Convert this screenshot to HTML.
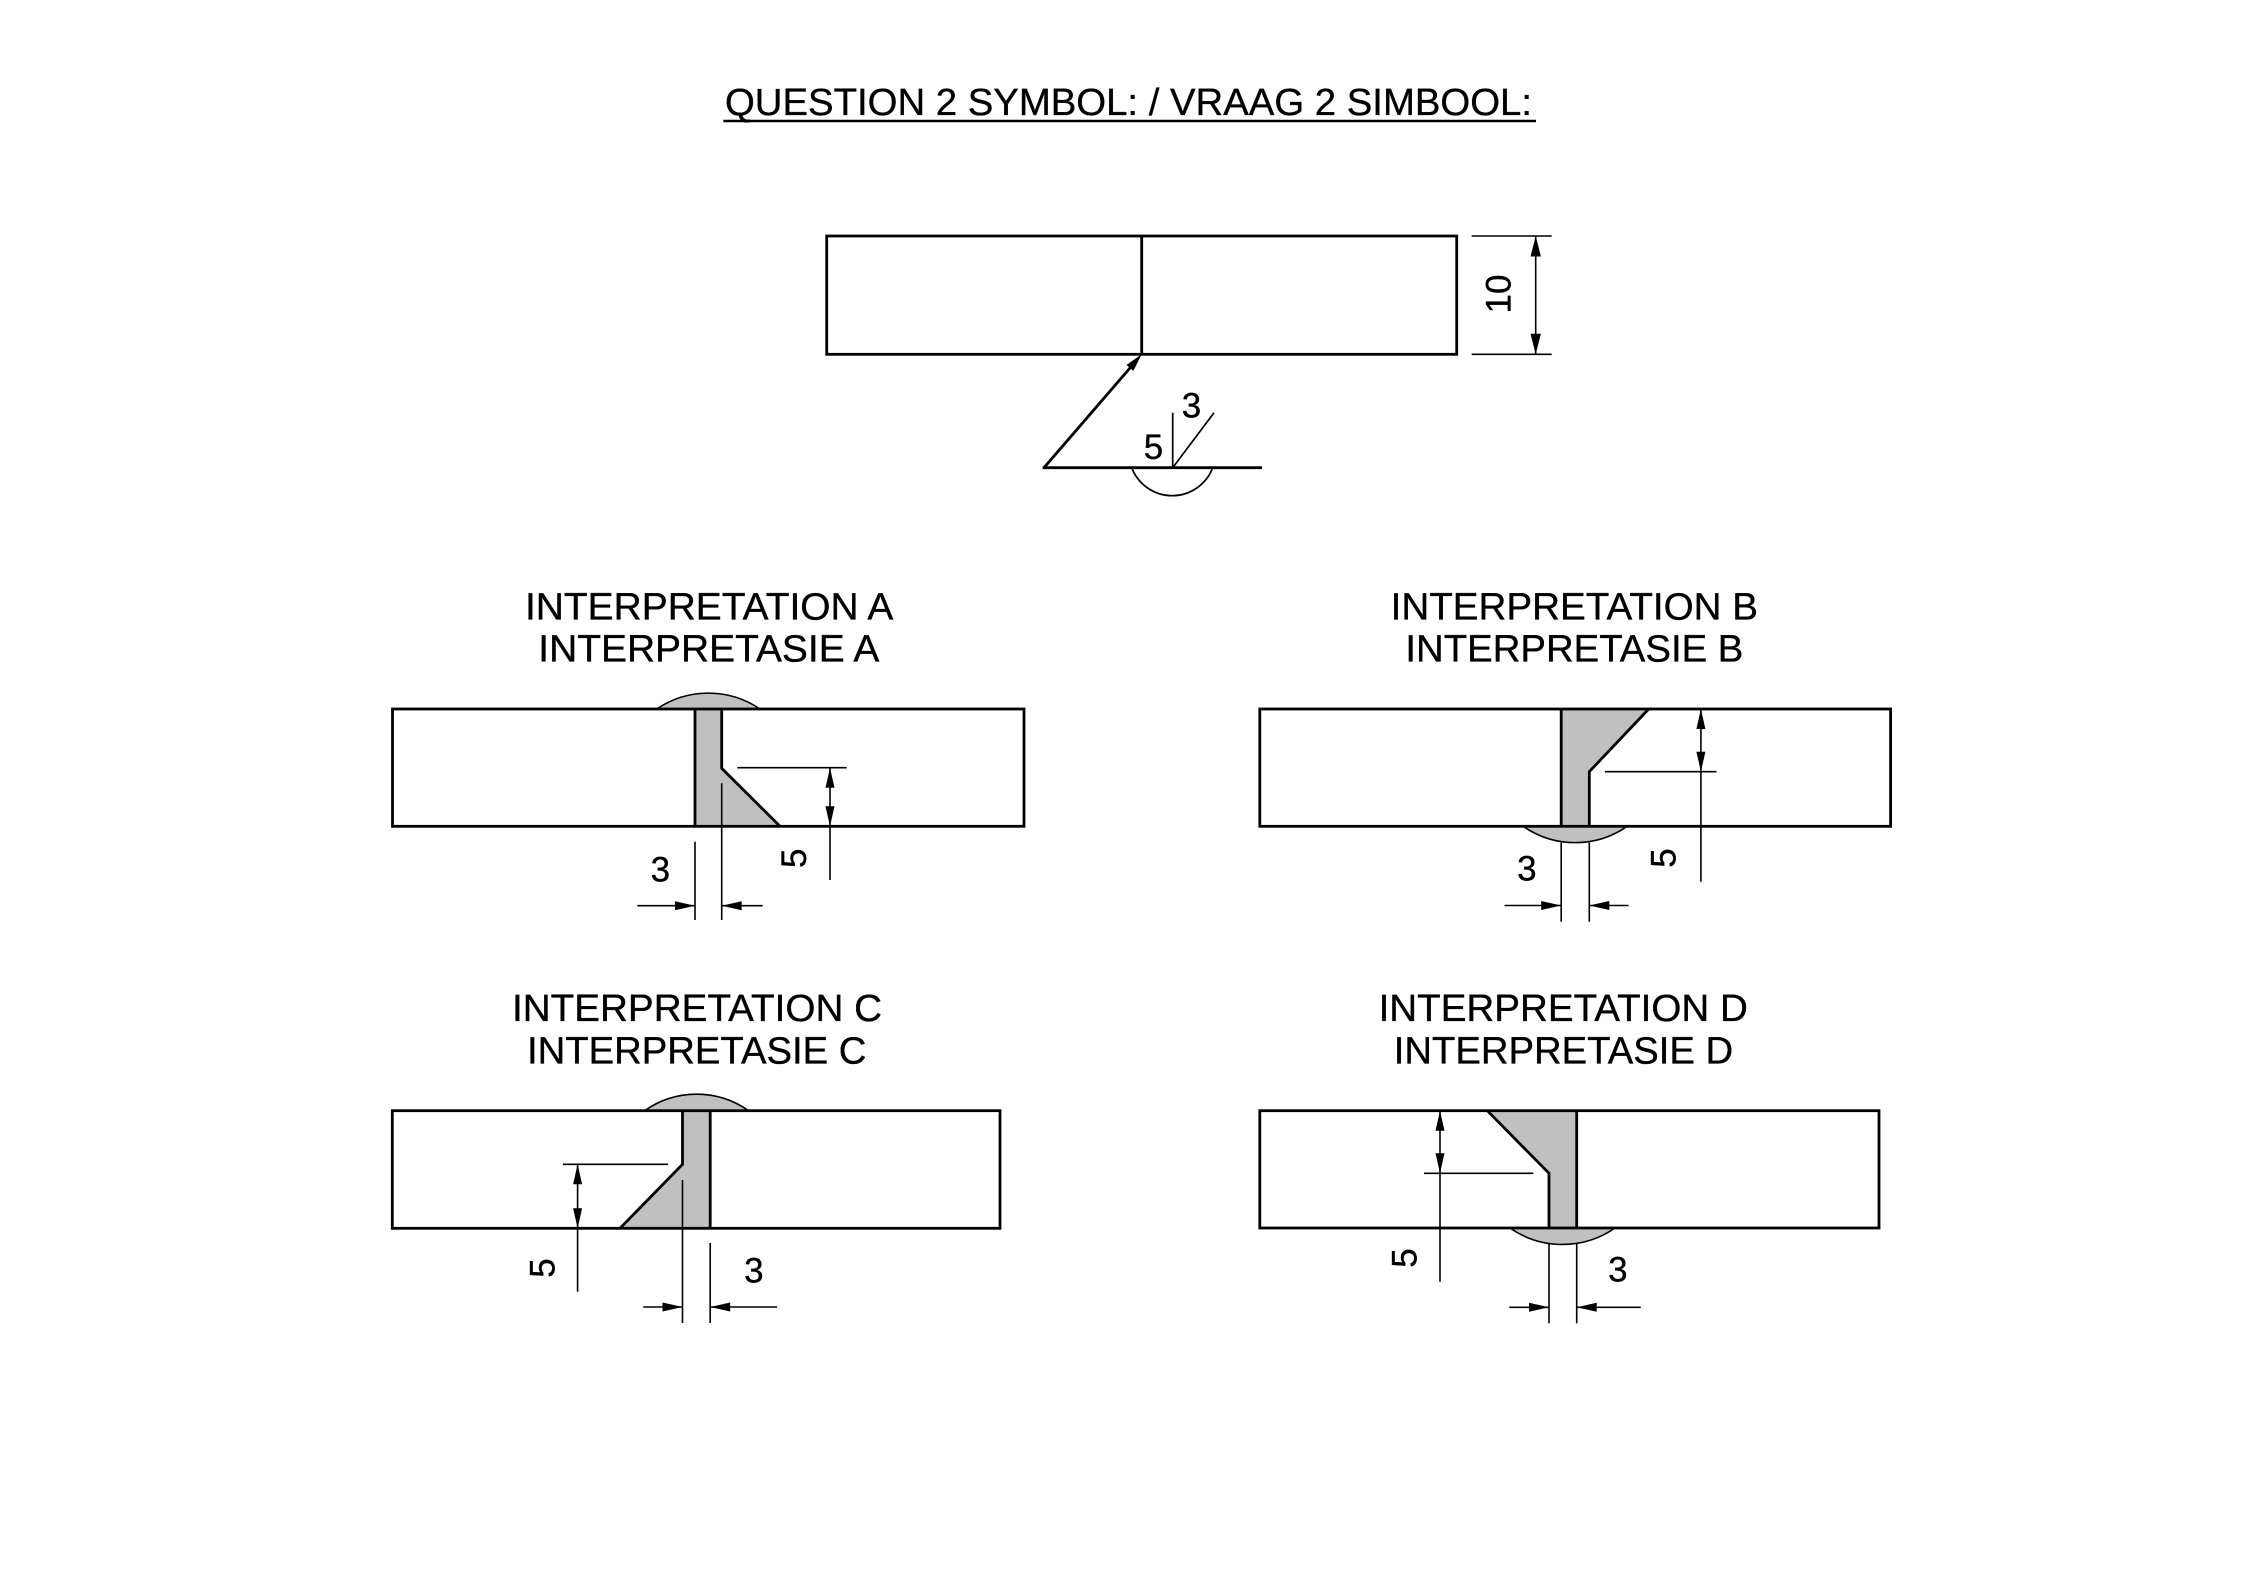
<!DOCTYPE html>
<html>
<head>
<meta charset="utf-8">
<style>
  html, body { margin: 0; padding: 0; background: #ffffff; }
  svg { display: block; }
  text { font-family: "Liberation Sans", Arial, sans-serif; fill: #000; stroke: #000; stroke-width: 0.35; }
</style>
</head>
<body>
<svg width="2262" height="1575" viewBox="0 0 2262 1575" xmlns="http://www.w3.org/2000/svg">
  <rect x="0" y="0" width="2262" height="1575" fill="#ffffff"/>

  <!-- ===== Title ===== -->
  <text x="725" y="115" font-size="38" textLength="807" lengthAdjust="spacingAndGlyphs">QUESTION 2 SYMBOL: / VRAAG 2 SIMBOOL:</text>
  <line x1="723.3" y1="121" x2="1536" y2="121" stroke="#000" stroke-width="2.5"/>

  <!-- ===== Top symbol drawing ===== -->
  <rect x="826.7" y="236" width="630" height="118.3" fill="none" stroke="#000" stroke-width="2.8"/>
  <line x1="1141.7" y1="236" x2="1141.7" y2="354.3" stroke="#000" stroke-width="2.8"/>
  <!-- dimension 10 -->
  <line x1="1471.7" y1="236" x2="1551.7" y2="236" stroke="#000" stroke-width="1.6"/>
  <line x1="1471.7" y1="354.3" x2="1551.7" y2="354.3" stroke="#000" stroke-width="1.6"/>
  <line x1="1535.7" y1="236" x2="1535.7" y2="354.3" stroke="#000" stroke-width="1.6"/>
  <polygon points="1535.7,236 1530.5,256.5 1540.9,256.5" fill="#000"/>
  <polygon points="1535.7,354.3 1530.5,333.8 1540.9,333.8" fill="#000"/>
  <text x="1498" y="306.5" font-size="35" text-anchor="middle" transform="rotate(-90 1498 294)">10</text>
  <!-- leader + arrow -->
  <line x1="1044" y1="467.7" x2="1133" y2="364.5" stroke="#000" stroke-width="2.8"/>
  <polygon points="1141.7,354.3 1133.36,370.88 1126.54,365.0" fill="#000"/>
  <!-- reference line -->
  <line x1="1042.6" y1="467.7" x2="1262" y2="467.7" stroke="#000" stroke-width="2.8"/>
  <!-- weld symbol -->
  <line x1="1172.7" y1="412.7" x2="1172.7" y2="467.7" stroke="#000" stroke-width="1.7"/>
  <line x1="1172.7" y1="467.7" x2="1214" y2="412.7" stroke="#000" stroke-width="1.7"/>
  <path d="M1131.7 467.7 A43.3 43.3 0 0 0 1212.7 467.7" fill="none" stroke="#000" stroke-width="1.7"/>
  <text x="1191.5" y="417.5" font-size="35" text-anchor="middle">3</text>
  <text x="1153.5" y="459" font-size="35" text-anchor="middle">5</text>

  <!-- ===== Interpretation A ===== -->
  <text x="525" y="619.3" font-size="38" textLength="368.3" lengthAdjust="spacingAndGlyphs">INTERPRETATION A</text>
  <text x="538.3" y="661.7" font-size="38" textLength="341" lengthAdjust="spacingAndGlyphs">INTERPRETASIE A</text>
  <rect x="392.5" y="709" width="631.5" height="117.3" fill="#fff" stroke="none"/>
  <path d="M656.7 709 A92 92 0 0 1 760 709 Z" fill="#c0c0c0"/>
  <path d="M656.7 709 A92 92 0 0 1 760 709" fill="none" stroke="#000" stroke-width="1.6"/>
  <polygon points="695,709 721.7,709 721.7,768.3 780,826.3 695,826.3" fill="#c0c0c0"/>
  <line x1="695" y1="709" x2="695" y2="826.3" stroke="#000" stroke-width="2.8"/>
  <polyline points="721.7,709 721.7,768.3 780,826.3" fill="none" stroke="#000" stroke-width="2.8"/>
  <rect x="392.5" y="709" width="631.5" height="117.3" fill="none" stroke="#000" stroke-width="2.8"/>
  <line x1="721.7" y1="783.3" x2="721.7" y2="920" stroke="#000" stroke-width="1.6"/>
  <line x1="695" y1="841.7" x2="695" y2="920" stroke="#000" stroke-width="1.6"/>
  <line x1="637.3" y1="905.7" x2="695" y2="905.7" stroke="#000" stroke-width="1.6"/>
  <polygon points="695,905.7 675,901.2 675,910.2" fill="#000"/>
  <line x1="721.7" y1="905.7" x2="762.7" y2="905.7" stroke="#000" stroke-width="1.6"/>
  <polygon points="721.7,905.7 741.7,901.2 741.7,910.2" fill="#000"/>
  <text x="660.3" y="881.7" font-size="35" text-anchor="middle">3</text>
  <line x1="737.3" y1="767.7" x2="846.7" y2="767.7" stroke="#000" stroke-width="1.6"/>
  <line x1="830" y1="767.7" x2="830" y2="880" stroke="#000" stroke-width="1.6"/>
  <polygon points="830,767.7 825.5,787.7 834.5,787.7" fill="#000"/>
  <polygon points="830,826.3 825.5,806.3 834.5,806.3" fill="#000"/>
  <text x="793.3" y="870.8" font-size="35" text-anchor="middle" transform="rotate(-90 793.3 858.3)">5</text>

  <!-- ===== Interpretation B ===== -->
  <text x="1390.6" y="619.3" font-size="38" textLength="367.4" lengthAdjust="spacingAndGlyphs">INTERPRETATION B</text>
  <text x="1405.4" y="661.7" font-size="38" textLength="338" lengthAdjust="spacingAndGlyphs">INTERPRETASIE B</text>
  <rect x="1259.8" y="709" width="630.8" height="117.3" fill="#fff" stroke="none"/>
  <path d="M1523.2 826.3 A91 91 0 0 0 1627.2 826.3 Z" fill="#c0c0c0"/>
  <path d="M1523.2 826.3 A91 91 0 0 0 1627.2 826.3" fill="none" stroke="#000" stroke-width="1.6"/>
  <polygon points="1561.2,709 1648.7,709 1589.3,771.7 1589.3,826.3 1561.2,826.3" fill="#c0c0c0"/>
  <line x1="1561.2" y1="709" x2="1561.2" y2="826.3" stroke="#000" stroke-width="2.8"/>
  <polyline points="1648.7,709 1589.3,771.7 1589.3,826.3" fill="none" stroke="#000" stroke-width="2.8"/>
  <rect x="1259.8" y="709" width="630.8" height="117.3" fill="none" stroke="#000" stroke-width="2.8"/>
  <line x1="1604.9" y1="771.7" x2="1716.5" y2="771.7" stroke="#000" stroke-width="1.6"/>
  <line x1="1700.9" y1="709" x2="1700.9" y2="881.7" stroke="#000" stroke-width="1.6"/>
  <polygon points="1700.9,709 1696.4,729 1705.4,729" fill="#000"/>
  <polygon points="1700.9,771.7 1696.4,751.7 1705.4,751.7" fill="#000"/>
  <text x="1663" y="870.5" font-size="35" text-anchor="middle" transform="rotate(-90 1663 858)">5</text>
  <line x1="1561.2" y1="842.7" x2="1561.2" y2="921.7" stroke="#000" stroke-width="1.6"/>
  <line x1="1589.3" y1="842.7" x2="1589.3" y2="921.7" stroke="#000" stroke-width="1.6"/>
  <line x1="1504.5" y1="905.5" x2="1561.2" y2="905.5" stroke="#000" stroke-width="1.6"/>
  <polygon points="1561.2,905.5 1541.2,901 1541.2,910" fill="#000"/>
  <line x1="1589.3" y1="905.5" x2="1628.6" y2="905.5" stroke="#000" stroke-width="1.6"/>
  <polygon points="1589.3,905.5 1609.3,901 1609.3,910" fill="#000"/>
  <text x="1526.8" y="880.5" font-size="35" text-anchor="middle">3</text>

  <!-- ===== Interpretation C ===== -->
  <text x="512" y="1021" font-size="38" textLength="370" lengthAdjust="spacingAndGlyphs">INTERPRETATION C</text>
  <text x="527" y="1063.4" font-size="38" textLength="339.4" lengthAdjust="spacingAndGlyphs">INTERPRETASIE C</text>
  <rect x="392.3" y="1110.7" width="607.7" height="117.6" fill="#fff" stroke="none"/>
  <path d="M644.6 1110.7 A90 90 0 0 1 748.6 1110.7 Z" fill="#c0c0c0"/>
  <path d="M644.6 1110.7 A90 90 0 0 1 748.6 1110.7" fill="none" stroke="#000" stroke-width="1.6"/>
  <polygon points="682.5,1110.7 710.2,1110.7 710.2,1228.3 620,1228.3 682.5,1164.3" fill="#c0c0c0"/>
  <line x1="710.2" y1="1110.7" x2="710.2" y2="1228.3" stroke="#000" stroke-width="2.8"/>
  <polyline points="682.5,1110.7 682.5,1164.3 620,1228.3" fill="none" stroke="#000" stroke-width="2.8"/>
  <rect x="392.3" y="1110.7" width="607.7" height="117.6" fill="none" stroke="#000" stroke-width="2.8"/>
  <line x1="682.5" y1="1180" x2="682.5" y2="1323" stroke="#000" stroke-width="1.6"/>
  <line x1="710.2" y1="1243" x2="710.2" y2="1323" stroke="#000" stroke-width="1.6"/>
  <line x1="643.2" y1="1307" x2="682.5" y2="1307" stroke="#000" stroke-width="1.6"/>
  <polygon points="682.5,1307 662.5,1302.5 662.5,1311.5" fill="#000"/>
  <line x1="710.2" y1="1307" x2="777.1" y2="1307" stroke="#000" stroke-width="1.6"/>
  <polygon points="710.2,1307 730.2,1302.5 730.2,1311.5" fill="#000"/>
  <text x="753.9" y="1282.5" font-size="35" text-anchor="middle">3</text>
  <line x1="562.9" y1="1164.3" x2="668.2" y2="1164.3" stroke="#000" stroke-width="1.6"/>
  <line x1="577.6" y1="1164.3" x2="577.6" y2="1291.7" stroke="#000" stroke-width="1.6"/>
  <polygon points="577.6,1164.3 573.1,1184.3 582.1,1184.3" fill="#000"/>
  <polygon points="577.6,1228.3 573.1,1208.3 582.1,1208.3" fill="#000"/>
  <text x="541.9" y="1280.5" font-size="35" text-anchor="middle" transform="rotate(-90 541.9 1268)">5</text>

  <!-- ===== Interpretation D ===== -->
  <text x="1378.6" y="1021" font-size="38" textLength="369.2" lengthAdjust="spacingAndGlyphs">INTERPRETATION D</text>
  <text x="1393.8" y="1063.4" font-size="38" textLength="339.3" lengthAdjust="spacingAndGlyphs">INTERPRETASIE D</text>
  <rect x="1259.8" y="1110.7" width="619.2" height="117.3" fill="#fff" stroke="none"/>
  <path d="M1510 1228 A92 92 0 0 0 1615 1228 Z" fill="#c0c0c0"/>
  <path d="M1510 1228 A92 92 0 0 0 1615 1228" fill="none" stroke="#000" stroke-width="1.6"/>
  <polygon points="1487.3,1110.7 1576.7,1110.7 1576.7,1228 1549,1228 1549,1173.3" fill="#c0c0c0"/>
  <line x1="1576.7" y1="1110.7" x2="1576.7" y2="1228" stroke="#000" stroke-width="2.8"/>
  <polyline points="1487.3,1110.7 1549,1173.3 1549,1228" fill="none" stroke="#000" stroke-width="2.8"/>
  <rect x="1259.8" y="1110.7" width="619.2" height="117.3" fill="none" stroke="#000" stroke-width="2.8"/>
  <line x1="1424" y1="1173.3" x2="1533.3" y2="1173.3" stroke="#000" stroke-width="1.6"/>
  <line x1="1440" y1="1110.7" x2="1440" y2="1281.7" stroke="#000" stroke-width="1.6"/>
  <polygon points="1440,1110.7 1435.5,1130.7 1444.5,1130.7" fill="#000"/>
  <polygon points="1440,1173.3 1435.5,1153.3 1444.5,1153.3" fill="#000"/>
  <text x="1404" y="1270.5" font-size="35" text-anchor="middle" transform="rotate(-90 1404 1258)">5</text>
  <line x1="1549" y1="1244" x2="1549" y2="1323.3" stroke="#000" stroke-width="1.6"/>
  <line x1="1576.7" y1="1244" x2="1576.7" y2="1323.3" stroke="#000" stroke-width="1.6"/>
  <line x1="1509.3" y1="1307.3" x2="1549" y2="1307.3" stroke="#000" stroke-width="1.6"/>
  <polygon points="1549,1307.3 1529,1302.8 1529,1311.8" fill="#000"/>
  <line x1="1576.7" y1="1307.3" x2="1640.7" y2="1307.3" stroke="#000" stroke-width="1.6"/>
  <polygon points="1576.7,1307.3 1596.7,1302.8 1596.7,1311.8" fill="#000"/>
  <text x="1617.8" y="1281.5" font-size="35" text-anchor="middle">3</text>
</svg>
</body>
</html>
